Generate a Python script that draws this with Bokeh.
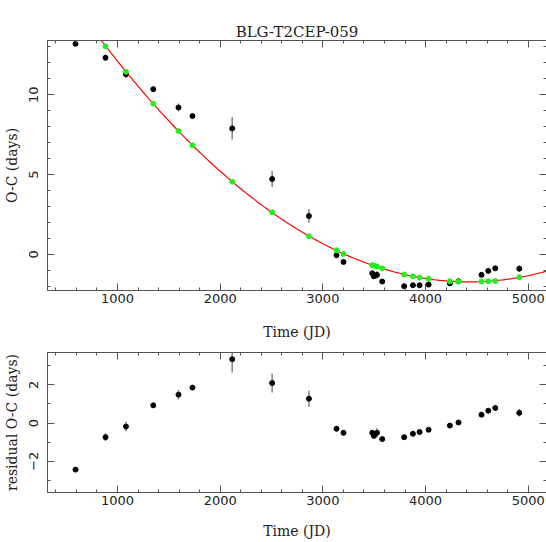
import numpy as np
from bokeh.plotting import figure
from bokeh.models import Range1d, SingleIntervalTicker, LinearAxis
from bokeh.layouts import column
from bokeh.embed import file_html
from bokeh.resources import INLINE

# ---- data ----
jd = [591, 883, 1082, 1348, 1594, 1730, 2117, 2506, 2864, 3133, 3201, 3481, 3497,
      3527, 3578, 3792, 3877, 3942, 4030, 4237, 4321, 4545, 4611, 4679, 4913]
oc = [13.19, 12.32, 11.29, 10.35, 9.20, 8.66, 7.89, 4.72, 2.40, -0.06, -0.48, -1.19, -1.38,
      -1.29, -1.71, -2.00, -1.94, -1.94, -1.90, -1.82, -1.69, -1.29, -1.04, -0.88, -0.90]
oc_err = [0.10, 0.20, 0.25, 0.10, 0.25, 0.10, 0.70, 0.50, 0.42, 0.08, 0.08, 0.08, 0.08,
          0.25, 0.08, 0.08, 0.08, 0.08, 0.08, 0.08, 0.08, 0.08, 0.08, 0.08, 0.20]
model = [15.63, 13.04, 11.44, 9.44, 7.72, 6.83, 4.55, 2.63, 1.13, 0.25, 0.02, -0.69, -0.71,
         -0.77, -0.88, -1.27, -1.38, -1.46, -1.54, -1.69, -1.71, -1.71, -1.69, -1.67, -1.44]
resid = [-2.44, -0.74, -0.18, 0.93, 1.49, 1.86, 3.35, 2.10, 1.28, -0.30, -0.51, -0.51, -0.67,
         -0.51, -0.84, -0.74, -0.56, -0.47, -0.35, -0.13, 0.03, 0.44, 0.65, 0.79, 0.54]
resid_err = oc_err

TITLE = "BLG-T2CEP-059"
XLABEL = "Time (JD)"
YLABEL_TOP = "O-C (days)"
YLABEL_BOT = "residual O-C (days)"

X_RANGE = (318, 5178)

TICK_FONT = "DejaVu Sans"
LABEL_FONT = "DejaVu Serif"
AXIS_COLOR = "#555555"
TEXT_COLOR = "#222222"

# quadratic fit curve through the model points
coef = np.polyfit(jd, model, 2)
xfit = np.linspace(X_RANGE[0], X_RANGE[1], 300)
yfit = np.polyval(coef, xfit)


def style_axis(ax, show_labels):
    ax.major_tick_in = 7
    ax.major_tick_out = 0
    ax.minor_tick_in = 3
    ax.minor_tick_out = 0
    ax.axis_line_color = AXIS_COLOR
    ax.major_tick_line_color = AXIS_COLOR
    ax.minor_tick_line_color = AXIS_COLOR
    ax.major_label_text_font = TICK_FONT
    ax.major_label_text_color = TEXT_COLOR
    ax.axis_label_text_font = LABEL_FONT
    ax.axis_label_text_font_style = "normal"
    ax.axis_label_text_color = TEXT_COLOR
    ax.axis_label_text_font_size = "14px"
    if show_labels:
        ax.major_label_text_font_size = "13px"
    else:
        ax.major_label_text_font_size = "1px"
        ax.major_label_text_color = None
        ax.major_label_standoff = 0


def make_fig(frame_h, yr, yint, yminor, ylabel, btop, bbot, xlab_standoff):
    p = figure(frame_width=499, frame_height=frame_h, output_backend="svg",
               toolbar_location=None,
               x_range=Range1d(*X_RANGE), y_range=Range1d(*yr),
               min_border_left=44, min_border_right=3,
               min_border_top=btop, min_border_bottom=bbot)
    p.grid.visible = False
    p.outline_line_color = AXIS_COLOR
    xt = SingleIntervalTicker(interval=1000, num_minor_ticks=5)
    yt = SingleIntervalTicker(interval=yint, num_minor_ticks=yminor)
    p.xaxis.ticker = xt
    p.yaxis.ticker = yt
    p.xaxis.axis_label = XLABEL
    p.yaxis.axis_label = ylabel
    for ax in p.xaxis:
        style_axis(ax, True)
        ax.major_label_standoff = 3
        ax.axis_label_standoff = xlab_standoff
    for ax in p.yaxis:
        style_axis(ax, True)
        ax.major_label_orientation = "vertical"
        ax.major_label_standoff = 9
        ax.axis_label_standoff = 7
    top = LinearAxis(ticker=xt)
    right = LinearAxis(ticker=yt)
    style_axis(top, False)
    style_axis(right, False)
    p.add_layout(top, "above")
    p.add_layout(right, "right")
    return p


p1 = make_fig(250, (-2.27, 13.4), 5, 5, YLABEL_TOP, 40, 50, 18)
p1.title.text = TITLE
p1.title.align = "center"
p1.title.text_font = LABEL_FONT
p1.title.text_font_style = "normal"
p1.title.text_font_size = "15px"
p1.title.text_color = TEXT_COLOR
p1.title.standoff = 0

p1.segment(x0=jd, y0=[o - e for o, e in zip(oc, oc_err)],
           x1=jd, y1=[o + e for o, e in zip(oc, oc_err)],
           line_color="#8a8a8a", line_width=1.6)
p1.scatter(jd, oc, size=5, fill_color="black", line_color="black")
p1.line(xfit, yfit, line_color="#ff0000", line_width=1.2)
p1.scatter(jd, model, size=5, fill_color="#22ee22", line_color="#22ee22")

p2 = make_fig(140, (-3.64, 3.7), 2, 2, YLABEL_BOT, 10, 52, 15)
p2.segment(x0=jd, y0=[r - e for r, e in zip(resid, resid_err)],
           x1=jd, y1=[r + e for r, e in zip(resid, resid_err)],
           line_color="#8a8a8a", line_width=1.6)
p2.scatter(jd, resid, size=5, fill_color="black", line_color="black")

layout = column(p1, p2, spacing=0)

open("out.html", "w").write(file_html(layout, INLINE))
